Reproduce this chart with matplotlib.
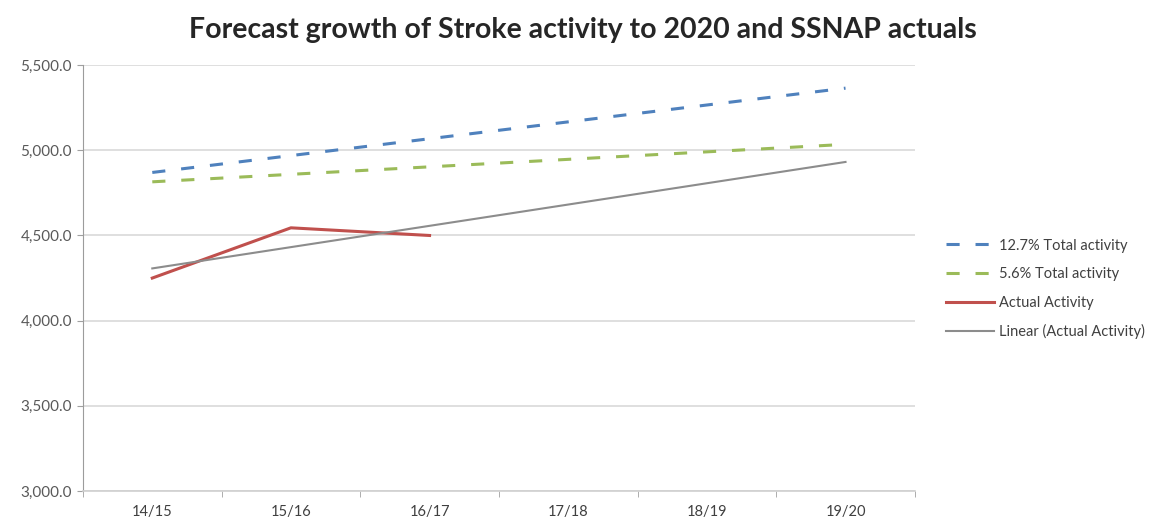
import numpy as np
import matplotlib.pyplot as plt

years = ["14/15", "15/16", "16/17", "17/18", "18/19", "19/20"]
growth_127 = [4870, 4969, 5068, 5167, 5266, 5365]
growth_56 = [4815, 4859, 4903, 4947, 4991, 5035]
actual = [4250, 4545, 4500]

x = np.arange(len(years))
xa = np.arange(len(actual))

# linear trend of the actual activity, extended to 19/20
slope, icept = np.polyfit(xa, actual, 1)
trend = icept + slope * x

plt.rcParams['font.family'] = ['Lato', 'DejaVu Sans']

fig = plt.figure(figsize=(11.49, 5.17), dpi=100)
ax = fig.add_axes([0.0722, 0.0503, 0.7240, 0.8237])

ax.plot(x, growth_127, color="#4F81BD", lw=2.2, ls=(0, (4.3, 5.2)), label="12.7% Total activity")
ax.plot(x, growth_56, color="#9BBB59", lw=2.2, ls=(0, (4.3, 5.2)), label="5.6% Total activity")
ax.plot(xa, actual, color="#C0504D", lw=2.2, label="Actual Activity")
ax.plot(x, trend, color="#8C8C8C", lw=1.5, label="Linear (Actual Activity)")

ax.set_xlim(-0.5, len(years) - 0.5)
ax.set_ylim(3000, 5500)
ax.set_yticks(np.arange(3000, 5501, 500))
ax.set_yticklabels([f"{v:,.1f}" for v in np.arange(3000, 5501, 500)], fontsize=11, color="#595959")
ax.set_xticks(x)
ax.set_xticklabels(years, fontsize=10.5, color="#404040")
ax.set_xticks(np.arange(-0.5, len(years)), minor=True)
ax.tick_params(axis="x", which="major", length=0, pad=10)
ax.tick_params(axis="x", which="minor", length=4, color="#A0A0A0")
ax.tick_params(axis="y", length=4, color="#A0A0A0", pad=4)

ax.grid(axis="y", color="#D9D9D9", lw=1.2)
ax.set_axisbelow(True)
for side in ["top", "right"]:
    ax.spines[side].set_visible(False)
ax.spines["left"].set_color("#9C9C9C")
ax.spines["bottom"].set_color("#D0D0D0")
ax.spines["bottom"].set_linewidth(1.2)

fig.suptitle("Forecast growth of Stroke activity to 2020 and SSNAP actuals",
             x=0.507, y=0.967, fontsize=20.5, fontweight="bold", color="#262626")

ax.legend(loc="center left", bbox_to_anchor=(0.812, 0.441), bbox_transform=fig.transFigure,
          frameon=False, fontsize=10.5, handlelength=3.3, labelspacing=1.0,
          handletextpad=0.3, labelcolor="#404040")

fig.savefig("out.png", dpi=100)
